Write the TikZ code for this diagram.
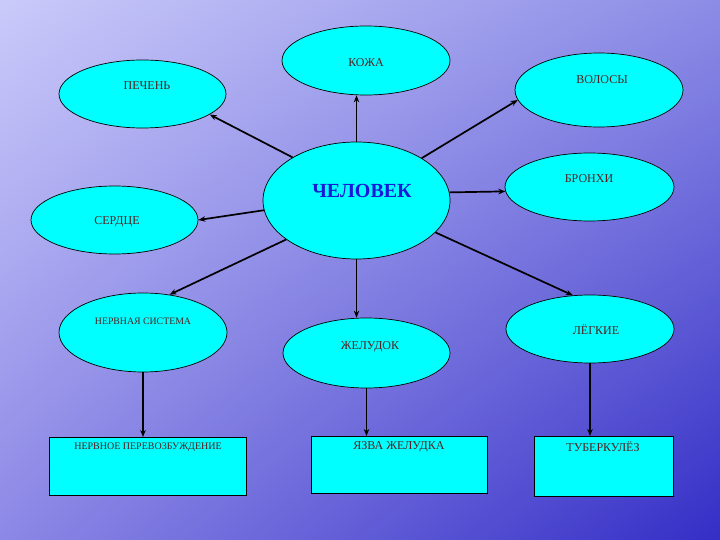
\documentclass[tikz,border=0pt]{standalone}
\usepackage{fontspec}
\setmainfont{Liberation Serif}
\usetikzlibrary{shapes.geometric,arrows.meta,shadings}
\definecolor{bgTL}{RGB}{202,202,250}
\definecolor{bgTR}{RGB}{140,140,230}
\definecolor{bgBL}{RGB}{140,136,230}
\definecolor{bgBR}{RGB}{52,46,198}
\definecolor{fillc}{RGB}{0,255,255}
\definecolor{txt}{RGB}{85,30,30}
\definecolor{maintxt}{RGB}{25,25,215}
\tikzset{
  oval/.style={ellipse, draw=black, line width=0.7pt, fill=fillc, inner sep=0pt},
  box/.style={rectangle, draw=black, line width=0.9pt, fill=fillc, inner sep=0pt, anchor=north west},
  lbl/.style={text=txt, font=\fontsize{12}{14}\selectfont, inner sep=0pt},
  conn/.style={line width=1.7pt, -{Stealth[length=7pt,width=5.5pt]}},
}
\begin{document}
\begin{tikzpicture}[x=1pt,y=-1pt]
\shade[upper left=bgTL, upper right=bgTR, lower left=bgBL, lower right=bgBR] (0,0) rectangle (720,540);
\useasboundingbox (0,0) rectangle (720,540);

% ellipses
\node[oval, minimum width=168pt, minimum height=69pt] (kozha) at (366,60.5) {};
\node[oval, minimum width=167pt, minimum height=68pt] (pechen) at (142.5,94) {};
\node[oval, minimum width=168pt, minimum height=74pt] (volosy) at (599,90) {};
\node[oval, minimum width=187pt, minimum height=117pt] (chel) at (356.5,200.5) {};
\node[oval, minimum width=169pt, minimum height=68pt] (bronhi) at (589.5,187) {};
\node[oval, minimum width=167pt, minimum height=68pt] (serdce) at (114.5,220) {};
\node[oval, minimum width=168pt, minimum height=79pt] (nerv) at (143,332.5) {};
\node[oval, minimum width=167pt, minimum height=70pt] (zhel) at (366.5,353) {};
\node[oval, minimum width=168pt, minimum height=68pt] (legkie) at (590,329) {};

% boxes
\node[box, minimum width=197pt, minimum height=58pt] (bnerv) at (49,437) {};
\node[box, minimum width=176pt, minimum height=57pt] (bzhel) at (311,436) {};
\node[box, minimum width=139pt, minimum height=60pt] (bleg) at (534,436) {};

% labels
\node[lbl] (tkozha) at (366,63) {КОЖА};
\node[lbl] (tpechen) at (147,86) {ПЕЧЕНЬ};
\node[lbl] (tvolosy) at (602,80) {ВОЛОСЫ};
\node[text=maintxt, font=\fontsize{20}{22}\selectfont\bfseries, inner sep=0pt] (tchel) at (362,191) {ЧЕЛОВЕК};
\node[lbl] (tbronhi) at (589,179) {БРОНХИ};
\node[lbl] (tserdce) at (117,222) {СЕРДЦЕ};
\node[lbl, font=\fontsize{9.8}{11}\selectfont] (tnerv) at (143,321) {НЕРВНАЯ СИСТЕМА};
\node[lbl] (tzhel) at (370,347) {ЖЕЛУДОК};
\node[lbl] (tlegkie) at (596,330) {ЛЁГКИЕ};
\node[lbl, font=\fontsize{10}{11}\selectfont] (tbnerv) at (148,447) {НЕРВНОЕ ПЕРЕВОЗБУЖДЕНИЕ};
\node[lbl] (tbzhel) at (399,447) {ЯЗВА ЖЕЛУДКА};
\node[lbl] (tbleg) at (603,447) {ТУБЕРКУЛЁЗ};

% connectors
\draw[conn] (chel.north) -- (chel.north |- kozha.south);
\draw[conn] (chel.146) -- (pechen.-17);
\draw[conn] (chel.33) -- (volosy.187);
\draw[conn] (chel.5) -- (bronhi.183.5);
\draw[conn] (chel.186.5) -- (serdce.0);
\draw[conn] (chel.209.7) -- (nerv.55.6);
\draw[conn] (chel.south) -- (chel.south |- zhel.north);
\draw[conn] (chel.-22) -- (legkie.117);
\draw[conn] (nerv.south) -- (bnerv.north -| nerv.south);
\draw[conn, line width=1pt] (zhel.south) -- (bzhel.north -| zhel.south);
\draw[conn] (legkie.south) -- (bleg.north -| legkie.south);
\end{tikzpicture}
\end{document}
